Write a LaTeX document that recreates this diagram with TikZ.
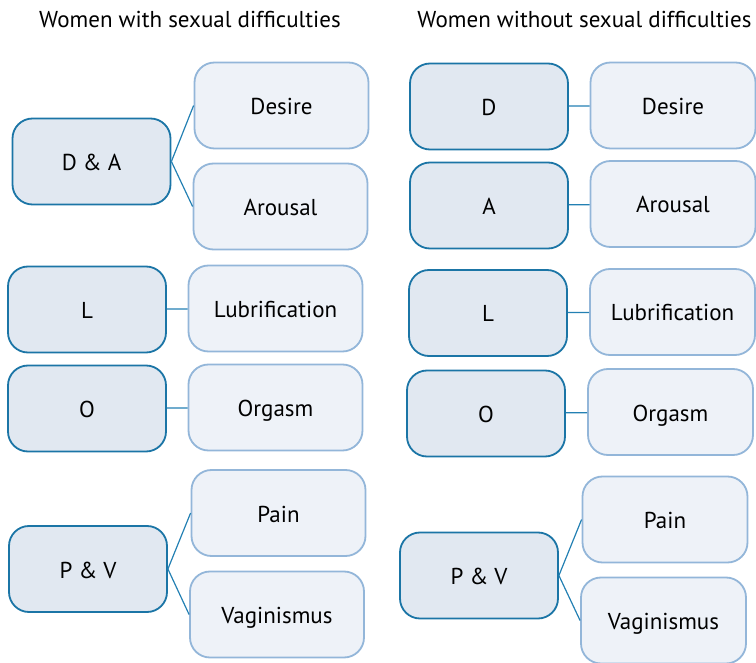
\documentclass[tikz,border=0pt]{standalone}
\usepackage{fontspec}
\setmainfont{PT Sans}
\usetikzlibrary{positioning}
\definecolor{catfill}{HTML}{E1E8F1}
\definecolor{catline}{HTML}{1B75A6}
\definecolor{subfill}{HTML}{EEF2F8}
\definecolor{subline}{HTML}{93B6D9}
\definecolor{linkline}{HTML}{2380B3}

\begin{document}
\begin{tikzpicture}[x=1pt, y=-1pt, font=\fontsize{23}{27}\selectfont,
    cat/.style={rectangle, rounded corners=20pt, draw=catline, fill=catfill, line width=1.8pt, minimum width=158pt, minimum height=86pt, inner sep=0pt, text height=18pt, text depth=-2pt},
    sub/.style={rectangle, rounded corners=20pt, draw=subline, fill=subfill, line width=1.8pt, minimum width=174pt, minimum height=86pt, inner sep=0pt, text height=18pt, text depth=-2pt},
    link/.style={draw=linkline, line width=1.2pt}]
    \useasboundingbox (0,0) rectangle (756,663);

    % women with sexual difficulties
    \node (titleL) [anchor=base] at (190,28) {Women with sexual difficulties};
    \node (DA) [cat] at (91.5,161.5) {D \& A};
    \node (desL) [sub] at (281.5,105.5) {Desire};
    \node (arL) [sub] at (280.5,206.5) {Arousal};
    \node (LL) [cat] at (87,309.5) {L};
    \node (lubL) [sub] at (275.5,308.5) {Lubrification};
    \node (OL) [cat] at (87,408.5) {O};
    \node (orgL) [sub] at (275.5,407.5) {Orgasm};
    \node (PV) [cat] at (88,569) {P \& V};
    \node (painL) [sub] at (278.5,513) {Pain};
    \node (vagL) [sub] at (277,614.5) {Vaginismus};

    \draw [link] (DA.east) -- (desL.west);
    \draw [link] (DA.east) -- (arL.west);
    \draw [link] (LL) -- (lubL);
    \draw [link] (OL) -- (orgL);
    \draw [link] (PV.east) -- (painL.west);
    \draw [link] (PV.east) -- (vagL.west);

    % women without sexual difficulties
    \node (titleR) [anchor=base] at (584.5,28) {Women without sexual difficulties};
    \node (D) [cat] at (489,106.5) {D};
    \node (desR) [sub, minimum width=165pt] at (673,105.5) {Desire};
    \node (A) [cat] at (489,205.5) {A};
    \node (arR) [sub, minimum width=165pt] at (673,204) {Arousal};
    \node (LR) [cat] at (488,313) {L};
    \node (lubR) [sub, minimum width=165pt] at (672.5,312) {Lubrification};
    \node (OR) [cat] at (486,413.5) {O};
    \node (orgR) [sub, minimum width=165pt] at (670.5,412) {Orgasm};
    \node (PVR) [cat] at (479,575.5) {P \& V};
    \node (painR) [sub, minimum width=165pt] at (665,519.5) {Pain};
    \node (vagR) [sub, minimum width=165pt] at (663.5,620.5) {Vaginismus};

    \draw [link] (D) -- (desR);
    \draw [link] (A) -- (arR);
    \draw [link] (LR) -- (lubR);
    \draw [link] (OR) -- (orgR);
    \draw [link] (PVR.east) -- (painR.west);
    \draw [link] (PVR.east) -- (vagR.west);
\end{tikzpicture}
\end{document}
